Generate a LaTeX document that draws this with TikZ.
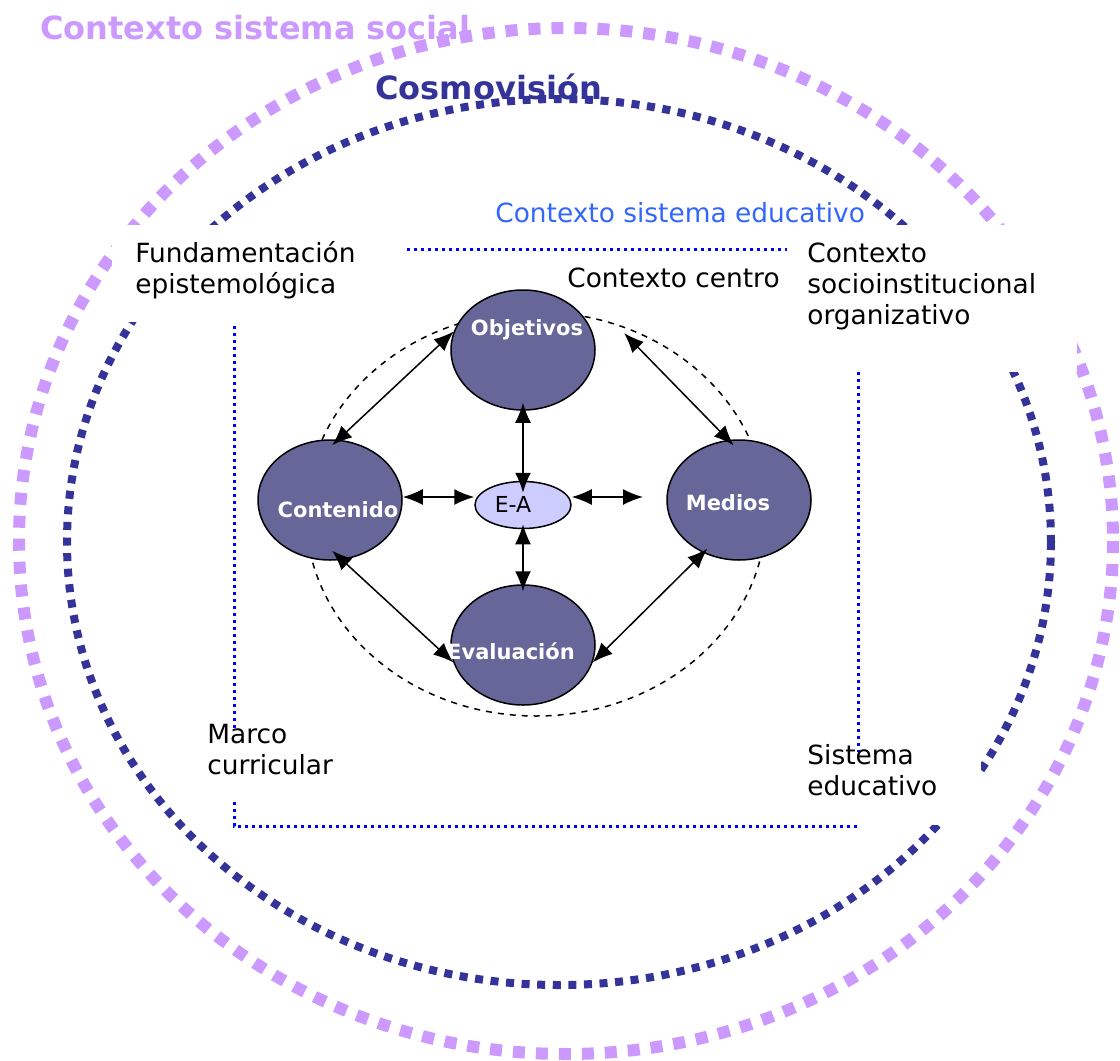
\documentclass[tikz,border=0pt]{standalone}
\usepackage{fontspec}
\setmainfont{DejaVu Sans}
\usetikzlibrary{arrows.meta,positioning,shapes.geometric}
\definecolor{socialviolet}{HTML}{CC99FF}
\definecolor{cosmoblue}{HTML}{333399}
\definecolor{edublue}{HTML}{3366FF}
\definecolor{elemfill}{HTML}{666699}
\definecolor{eafill}{HTML}{CCCCFF}
\tikzset{
  elem/.style = {ellipse, draw=black, fill=elemfill, line width=0.75pt,
    minimum width=72pt, minimum height=60pt, inner sep=0pt},% elemento curricular
  elemtxt/.style = {text=white, inner sep=0pt,
    font=\fontsize{10.5}{12}\selectfont\bfseries},
  ea/.style = {ellipse, draw=black, fill=eafill, line width=0.75pt,
    minimum width=48pt, minimum height=23.5pt, inner sep=0pt},% ensenanza-aprendizaje
  etiq/.style = {anchor=west, align=left, inner sep=0pt,
    font=\fontsize{13.2}{15.5}\selectfont},
  titulo/.style = {anchor=west, inner sep=0pt,
    font=\fontsize{16}{19}\selectfont\bfseries},
  mask/.style = {fill=white},
  rel/.style = {<->, line width=0.75pt}
}
\begin{document}
\begin{tikzpicture}[x=0.5pt,y=-0.5pt,>={Latex[length=10pt,width=8pt]}]
\useasboundingbox (0,0) rectangle (1120,1061);

% anillos de contexto
\draw[socialviolet, line width=6pt, dash pattern=on 6pt off 5.5pt]
  (566,541) ellipse [x radius=547, y radius=513];
\draw[cosmoblue, line width=4pt, dash pattern=on 4pt off 3.8pt]
  (559,542) ellipse [x radius=492, y radius=443];
\draw[blue, line width=1.5pt, dash pattern=on 1.5pt off 2pt]
  (234,249) rectangle (858,826);

% zonas blancas bajo las etiquetas
\fill[mask] (112,225) rectangle (403,322);
\fill[mask] (787,225) rectangle (1077,372);
\fill[mask] (190,732) rectangle (345,802);
\fill[mask] (795,752) rectangle (981,825);

\node[titulo, text=socialviolet] (social) at (40,28) {Contexto sistema social};
\node[titulo, text=cosmoblue] (cosmo) at (375,87) {Cosmovisión};
\node[etiq, text=edublue] (edu) at (495,213) {Contexto sistema educativo};
\node[etiq] (fund) at (135,270) {Fundamentación\\epistemológica};
\node[etiq] (centro) at (567,278) {Contexto centro};
\node[etiq] (socio) at (807,286) {Contexto\\socioinstitucional\\organizativo};
\node[etiq] (marco) at (207,750) {Marco\\curricular};
\node[etiq] (siste) at (807,770) {Sistema\\educativo};

% contexto centro
\draw[dashed, line width=0.75pt] (536,514) ellipse [x radius=230, y radius=202];

\node[elem, label={[elemtxt, xshift=2pt, yshift=10pt]center:Objetivos}] (obj) at (523,350) {};
\node[elem, label={[elemtxt, xshift=4pt, yshift=-5pt]center:Contenido}] (cont) at (330,500) {};
\node[elem, label={[elemtxt, xshift=-5.5pt, yshift=-1.5pt]center:Medios}] (med) at (739,500) {};
\node[elem, label={[elemtxt, xshift=-6pt, yshift=-3pt]center:Evaluación}] (eva) at (523,645) {};
\node[ea, label={[inner sep=0pt, xshift=-5pt, yshift=0.5pt, font=\fontsize{11}{13}\selectfont]center:E-A}] (ea) at (523,505) {};

\coordinate (objfree) at (624,333);
\coordinate (medfree) at (643,497);

\draw[rel] ([yshift=-3pt]cont.88) -- (obj.165);
\draw[rel] (objfree) -- ([yshift=-3pt]med.95);
\draw[rel] ([yshift=5pt]cont.-88) -- (eva.194);
\draw[rel] ([yshift=3pt]med.-120) -- (eva.-14);
\draw[rel] ([yshift=4pt]obj.south) -- ([yshift=-6pt]ea.north);
\draw[rel] ([yshift=2.5pt]ea.south) -- ([yshift=-3.5pt]eva.north);
\draw[rel] (cont.east |- medfree) -- (ea.west |- medfree);
\draw[rel] (ea.east |- medfree) -- (medfree);
\end{tikzpicture}
\end{document}
